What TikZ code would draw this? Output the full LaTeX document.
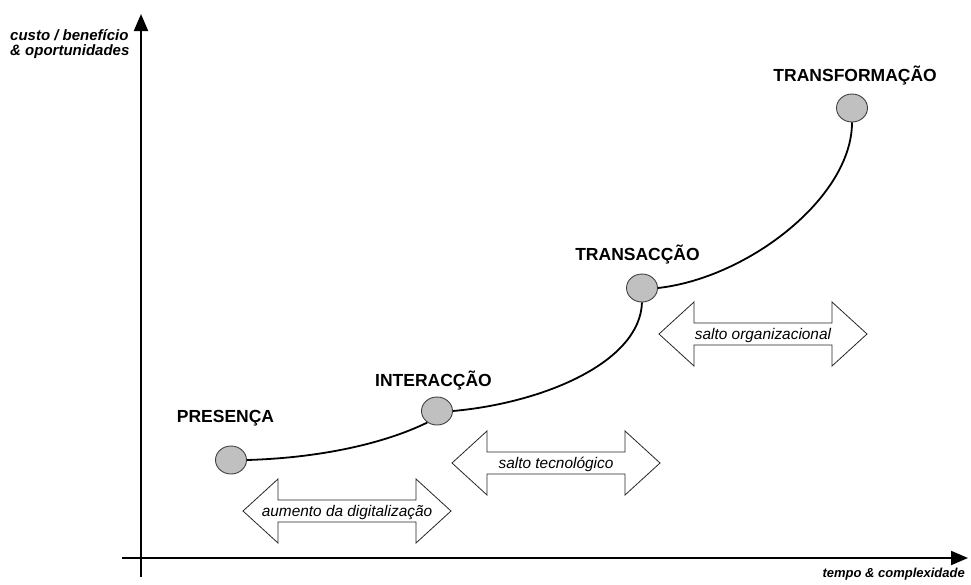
\documentclass[tikz,border=0pt]{standalone}
\usepackage{fontspec}
\setmainfont{Liberation Sans}
\usetikzlibrary{arrows.meta,shapes.geometric}
\definecolor{dotfill}{HTML}{C0C0C0}
\definecolor{dotline}{HTML}{404040}
\newcommand\dblarrow[4]{%
  \draw[arrowbox] (#2,#3) -- ++(35,-32) -- ++(0,21) -- ++(138,0) -- ++(0,-21) -- ++(35,32)
    -- ++(-35,32) -- ++(0,-21) -- ++(-138,0) -- ++(0,21) -- cycle;
  \node[arrlabel,anchor=base] (#1) at (#2+104,#3+5.5) {#4};}
\begin{document}
\begin{tikzpicture}[x=1pt,y=-1pt,
  axis/.style={line width=2pt,-{Triangle[length=17pt,width=14pt]}},
  curve/.style={line width=1.8pt},
  stage/.style={ellipse,draw=dotline,fill=dotfill,line width=0.9pt,minimum width=31pt,minimum height=28pt,inner sep=0pt},
  title/.style={font=\fontsize{17.5}{20}\selectfont\bfseries,inner sep=0pt},
  axlabel/.style={font=\fontsize{15}{15}\selectfont\bfseries\itshape,inner sep=0pt},
  xlabel/.style={font=\fontsize{13}{15}\selectfont\bfseries\itshape,inner sep=0pt},
  arrlabel/.style={font=\fontsize{15.4}{18}\selectfont\itshape,inner sep=0pt},
  arrowbox/.style={draw=black!85,line width=0.8pt,fill=white}]
\useasboundingbox (0,0) rectangle (971,584);
% axes
\coordinate (yb) at (141,577); \coordinate (yt) at (141,14);
\coordinate (xl) at (122,558); \coordinate (xr) at (968,558);
\draw[axis] (yb) -- (yt);
\draw[axis] (xl) -- (xr);
\node[axlabel,anchor=base west] (ylab1) at (10,40) {custo / benefício};
\node[axlabel,anchor=base west] (ylab2) at (10,55) {\& oportunidades};
\node[xlabel,anchor=base east] (xlab) at (965,577) {tempo \& complexidade};
% stages
\node[stage] (p1) at (231,460) {};
\node[stage] (p2) at (437,411) {};
\node[stage] (p3) at (642,288) {};
\node[stage] (p4) at (852,108) {};
\draw[curve] (p1.east) .. controls +(70,-2) and +(-45,22) .. (p2.230);
\draw[curve] (p2.east) .. controls +(90,-8) and +(-2,60) .. (p3.south);
\draw[curve] (p3.east) .. controls +(90,-10) and +(0,75) .. (p4.south);
\node[title,anchor=base] (t1) at (225.5,422) {PRESENÇA};
\node[title,anchor=base] (t2) at (433.5,386) {INTERACÇÃO};
\node[title,anchor=base] (t3) at (637.5,260) {TRANSACÇÃO};
\node[title,anchor=base east] (t4) at (937,81) {TRANSFORMAÇÃO};
% double arrows
\dblarrow{a1}{243}{511}{aumento da digitalização}
\dblarrow{a2}{452}{463}{salto tecnológico}
\dblarrow{a3}{659}{334}{salto organizacional}
\end{tikzpicture}
\end{document}
